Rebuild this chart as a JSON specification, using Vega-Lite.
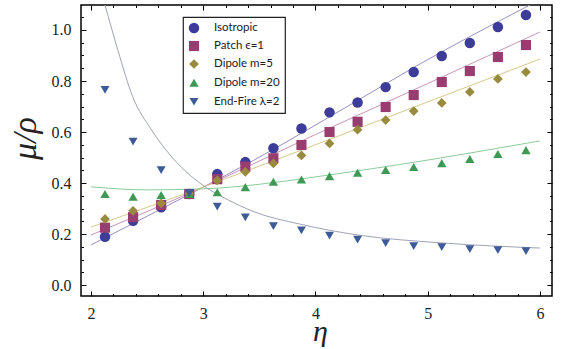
{
  "$schema": "https://vega.github.io/schema/vega-lite/v6.json",
  "width": 471,
  "height": 291,
  "autosize": "none",
  "padding": {"left": 81, "top": 5, "right": 10, "bottom": 53},
  "background": "white",
  "config": {
    "view": {"stroke": "black", "strokeWidth": 1.5},
    "axis": {"grid": false, "domain": false, "ticks": true, "tickColor": "black", "tickWidth": 1, "labelColor": "#222", "labelFont": "Liberation Serif", "labelFontSize": 16, "labelOverlap": false, "labelFlush": false, "titleColor": "#222"},
    "legend": {"orient": "none", "legendX": 102, "legendY": 12, "strokeColor": "#222", "strokeWidth": 1.2, "fillColor": "white", "padding": 5, "labelFont": "Lato", "labelFontSize": 11.5, "labelColor": "#222", "rowPadding": 6, "labelOffset": 14}
  },
  "datasets": {
    "pts": [
      {"s": "Isotropic", "eta": 2.125, "mu": 0.189}, {"s": "Isotropic", "eta": 2.375, "mu": 0.252}, {"s": "Isotropic", "eta": 2.625, "mu": 0.305}, {"s": "Isotropic", "eta": 2.875, "mu": 0.357},
      {"s": "Isotropic", "eta": 3.125, "mu": 0.435}, {"s": "Isotropic", "eta": 3.375, "mu": 0.482}, {"s": "Isotropic", "eta": 3.625, "mu": 0.536}, {"s": "Isotropic", "eta": 3.875, "mu": 0.614},
      {"s": "Isotropic", "eta": 4.125, "mu": 0.677}, {"s": "Isotropic", "eta": 4.375, "mu": 0.716}, {"s": "Isotropic", "eta": 4.625, "mu": 0.776}, {"s": "Isotropic", "eta": 4.875, "mu": 0.835},
      {"s": "Isotropic", "eta": 5.125, "mu": 0.898}, {"s": "Isotropic", "eta": 5.375, "mu": 0.949}, {"s": "Isotropic", "eta": 5.625, "mu": 1.012}, {"s": "Isotropic", "eta": 5.875, "mu": 1.059},
      {"s": "Patch ϵ=1", "eta": 2.125, "mu": 0.225}, {"s": "Patch ϵ=1", "eta": 2.375, "mu": 0.266}, {"s": "Patch ϵ=1", "eta": 2.625, "mu": 0.314}, {"s": "Patch ϵ=1", "eta": 2.875, "mu": 0.357},
      {"s": "Patch ϵ=1", "eta": 3.125, "mu": 0.415}, {"s": "Patch ϵ=1", "eta": 3.375, "mu": 0.464}, {"s": "Patch ϵ=1", "eta": 3.625, "mu": 0.497}, {"s": "Patch ϵ=1", "eta": 3.875, "mu": 0.549},
      {"s": "Patch ϵ=1", "eta": 4.125, "mu": 0.6}, {"s": "Patch ϵ=1", "eta": 4.375, "mu": 0.64}, {"s": "Patch ϵ=1", "eta": 4.625, "mu": 0.698}, {"s": "Patch ϵ=1", "eta": 4.875, "mu": 0.745},
      {"s": "Patch ϵ=1", "eta": 5.125, "mu": 0.796}, {"s": "Patch ϵ=1", "eta": 5.375, "mu": 0.839}, {"s": "Patch ϵ=1", "eta": 5.625, "mu": 0.894}, {"s": "Patch ϵ=1", "eta": 5.875, "mu": 0.941},
      {"s": "Dipole m=5", "eta": 2.125, "mu": 0.259}, {"s": "Dipole m=5", "eta": 2.375, "mu": 0.291}, {"s": "Dipole m=5", "eta": 2.625, "mu": 0.32}, {"s": "Dipole m=5", "eta": 2.875, "mu": 0.358},
      {"s": "Dipole m=5", "eta": 3.125, "mu": 0.41}, {"s": "Dipole m=5", "eta": 3.375, "mu": 0.444}, {"s": "Dipole m=5", "eta": 3.625, "mu": 0.477}, {"s": "Dipole m=5", "eta": 3.875, "mu": 0.508},
      {"s": "Dipole m=5", "eta": 4.125, "mu": 0.555}, {"s": "Dipole m=5", "eta": 4.375, "mu": 0.609}, {"s": "Dipole m=5", "eta": 4.625, "mu": 0.647}, {"s": "Dipole m=5", "eta": 4.875, "mu": 0.682},
      {"s": "Dipole m=5", "eta": 5.125, "mu": 0.714}, {"s": "Dipole m=5", "eta": 5.375, "mu": 0.757}, {"s": "Dipole m=5", "eta": 5.625, "mu": 0.808}, {"s": "Dipole m=5", "eta": 5.875, "mu": 0.835},
      {"s": "Dipole m=20", "eta": 2.125, "mu": 0.357}, {"s": "Dipole m=20", "eta": 2.375, "mu": 0.346}, {"s": "Dipole m=20", "eta": 2.625, "mu": 0.353}, {"s": "Dipole m=20", "eta": 2.875, "mu": 0.357},
      {"s": "Dipole m=20", "eta": 3.125, "mu": 0.364}, {"s": "Dipole m=20", "eta": 3.375, "mu": 0.384}, {"s": "Dipole m=20", "eta": 3.625, "mu": 0.405}, {"s": "Dipole m=20", "eta": 3.875, "mu": 0.414},
      {"s": "Dipole m=20", "eta": 4.125, "mu": 0.427}, {"s": "Dipole m=20", "eta": 4.375, "mu": 0.44}, {"s": "Dipole m=20", "eta": 4.625, "mu": 0.451}, {"s": "Dipole m=20", "eta": 4.875, "mu": 0.463},
      {"s": "Dipole m=20", "eta": 5.125, "mu": 0.478}, {"s": "Dipole m=20", "eta": 5.375, "mu": 0.494}, {"s": "Dipole m=20", "eta": 5.625, "mu": 0.514}, {"s": "Dipole m=20", "eta": 5.875, "mu": 0.529},
      {"s": "End-Fire λ=2", "eta": 2.125, "mu": 0.765}, {"s": "End-Fire λ=2", "eta": 2.375, "mu": 0.562}, {"s": "End-Fire λ=2", "eta": 2.625, "mu": 0.451}, {"s": "End-Fire λ=2", "eta": 2.875, "mu": 0.36},
      {"s": "End-Fire λ=2", "eta": 3.125, "mu": 0.307}, {"s": "End-Fire λ=2", "eta": 3.375, "mu": 0.265}, {"s": "End-Fire λ=2", "eta": 3.625, "mu": 0.231}, {"s": "End-Fire λ=2", "eta": 3.875, "mu": 0.214},
      {"s": "End-Fire λ=2", "eta": 4.125, "mu": 0.194}, {"s": "End-Fire λ=2", "eta": 4.375, "mu": 0.178}, {"s": "End-Fire λ=2", "eta": 4.625, "mu": 0.164}, {"s": "End-Fire λ=2", "eta": 4.875, "mu": 0.153},
      {"s": "End-Fire λ=2", "eta": 5.125, "mu": 0.149}, {"s": "End-Fire λ=2", "eta": 5.375, "mu": 0.141}, {"s": "End-Fire λ=2", "eta": 5.625, "mu": 0.137}, {"s": "End-Fire λ=2", "eta": 5.875, "mu": 0.133}
    ],
    "fits": [
      {"c": "iso", "eta": 2.0, "mu": 0.157}, {"c": "iso", "eta": 3.0, "mu": 0.384}, {"c": "iso", "eta": 3.42, "mu": 0.482}, {"c": "iso", "eta": 4.38, "mu": 0.725}, {"c": "iso", "eta": 4.875, "mu": 0.853}, {"c": "iso", "eta": 5.91, "mu": 1.098},
      {"c": "patch", "eta": 2.0, "mu": 0.196}, {"c": "patch", "eta": 3.0, "mu": 0.384}, {"c": "patch", "eta": 4.0, "mu": 0.59}, {"c": "patch", "eta": 5.0, "mu": 0.79}, {"c": "patch", "eta": 6.0, "mu": 0.992},
      {"c": "d5", "eta": 2.0, "mu": 0.227}, {"c": "d5", "eta": 3.0, "mu": 0.384}, {"c": "d5", "eta": 4.0, "mu": 0.55}, {"c": "d5", "eta": 5.0, "mu": 0.718}, {"c": "d5", "eta": 6.0, "mu": 0.886},
      {"c": "d20", "eta": 2.0, "mu": 0.385}, {"c": "d20", "eta": 2.5, "mu": 0.373}, {"c": "d20", "eta": 3.0, "mu": 0.377}, {"c": "d20", "eta": 3.5, "mu": 0.395}, {"c": "d20", "eta": 4.0, "mu": 0.424},
      {"c": "d20", "eta": 4.5, "mu": 0.456}, {"c": "d20", "eta": 5.0, "mu": 0.49}, {"c": "d20", "eta": 5.5, "mu": 0.527}, {"c": "d20", "eta": 6.0, "mu": 0.565},
      {"c": "ef", "eta": 2.125, "mu": 1.098}, {"c": "ef", "eta": 2.24, "mu": 0.92}, {"c": "ef", "eta": 2.37, "mu": 0.74}, {"c": "ef", "eta": 2.54, "mu": 0.608}, {"c": "ef", "eta": 2.72, "mu": 0.502},
      {"c": "ef", "eta": 2.9, "mu": 0.424}, {"c": "ef", "eta": 3.02, "mu": 0.384}, {"c": "ef", "eta": 3.19, "mu": 0.341}, {"c": "ef", "eta": 3.46, "mu": 0.286}, {"c": "ef", "eta": 3.86, "mu": 0.239},
      {"c": "ef", "eta": 4.38, "mu": 0.196}, {"c": "ef", "eta": 5.13, "mu": 0.165}, {"c": "ef", "eta": 6.0, "mu": 0.145}
    ]
  },
  "layer": [
    {
      "data": {"name": "fits"},
      "mark": {"type": "line", "strokeWidth": 1, "interpolate": "monotone", "clip": true},
      "encoding": {
        "x": {"field": "eta", "type": "quantitative", "scale": {"domain": [1.911, 6.107], "nice": false, "zero": false},
          "axis": {"orient": "top", "title": null, "labels": false,
            "values": [2, 2.2, 2.4, 2.6, 2.8, 3, 3.2, 3.4, 3.6, 3.8, 4, 4.2, 4.4, 4.6, 4.8, 5, 5.2, 5.4, 5.6, 5.8, 6],
            "tickSize": {"condition": {"test": "abs(datum.value-round(datum.value))<0.001", "value": -5}, "value": -2.5}}},
        "y": {"field": "mu", "type": "quantitative", "scale": {"domain": [-0.043, 1.098], "nice": false, "zero": false},
          "axis": {"orient": "right", "title": null, "labels": false,
            "values": [0, 0.05, 0.1, 0.15, 0.2, 0.25, 0.3, 0.35, 0.4, 0.45, 0.5, 0.55, 0.6, 0.65, 0.7, 0.75, 0.8, 0.85, 0.9, 0.95, 1.0, 1.05],
            "tickSize": {"condition": {"test": "abs(datum.value*5-round(datum.value*5))<0.001", "value": -5}, "value": -2.5}}},
        "color": {"field": "c", "type": "nominal", "legend": null,
          "scale": {"domain": ["iso", "patch", "d5", "d20", "ef"], "range": ["#9b8fc4", "#c893b8", "#d6c98c", "#8ccc9c", "#9ea3b5"]}}
      }
    },
    {
      "data": {"name": "pts"},
      "mark": {"type": "point", "filled": true, "opacity": 1},
      "encoding": {
        "x": {"field": "eta", "type": "quantitative",
          "axis": {"orient": "bottom", "title": "η", "titleFont": "Liberation Serif", "titleFontStyle": "italic", "titleFontWeight": "normal", "titleFontSize": 30, "titleX": 239, "titleY": 44, "titleBaseline": "alphabetic",
            "labelPadding": 14,
            "values": [2, 2.2, 2.4, 2.6, 2.8, 3, 3.2, 3.4, 3.6, 3.8, 4, 4.2, 4.4, 4.6, 4.8, 5, 5.2, 5.4, 5.6, 5.8, 6],
            "labelExpr": "abs(datum.value-round(datum.value))<0.001 ? format(datum.value,'d') : ''",
            "tickSize": {"condition": {"test": "abs(datum.value-round(datum.value))<0.001", "value": -5}, "value": -2.5}}},
        "y": {"field": "mu", "type": "quantitative",
          "axis": {"orient": "left", "title": "μ/ρ", "titleFont": "Liberation Serif", "titleFontStyle": "italic", "titleFontWeight": "normal", "titleFontSize": 34, "titleAngle": -90, "titleX": -46, "titleY": 133, "titleBaseline": "alphabetic", "titleAlign": "center",
            "labelPadding": 15,
            "values": [0, 0.05, 0.1, 0.15, 0.2, 0.25, 0.3, 0.35, 0.4, 0.45, 0.5, 0.55, 0.6, 0.65, 0.7, 0.75, 0.8, 0.85, 0.9, 0.95, 1.0, 1.05],
            "labelExpr": "abs(datum.value*5-round(datum.value*5))<0.001 ? format(datum.value,'.1f') : ''",
            "tickSize": {"condition": {"test": "abs(datum.value*5-round(datum.value*5))<0.001", "value": -5}, "value": -2.5}}},
        "color": {"field": "s", "type": "nominal", "title": null,
          "scale": {"domain": ["Isotropic", "Patch ϵ=1", "Dipole m=5", "Dipole m=20", "End-Fire λ=2"], "range": ["#3d3d99", "#993d71", "#998b3d", "#3d9954", "#3d5a99"]}},
        "shape": {"field": "s", "type": "nominal", "title": null,
          "scale": {"domain": ["Isotropic", "Patch ϵ=1", "Dipole m=5", "Dipole m=20", "End-Fire λ=2"], "range": ["circle", "square", "diamond", "triangle-up", "triangle-down"]}},
        "size": {"field": "s", "type": "nominal", "title": null,
          "scale": {"domain": ["Isotropic", "Patch ϵ=1", "Dipole m=5", "Dipole m=20", "End-Fire λ=2"], "range": [110, 80, 150, 130, 130]}}
      }
    }
  ],
  "resolve": {"scale": {"color": "independent", "shape": "independent", "size": "independent"}, "axis": {"x": "independent", "y": "independent"}}
}
